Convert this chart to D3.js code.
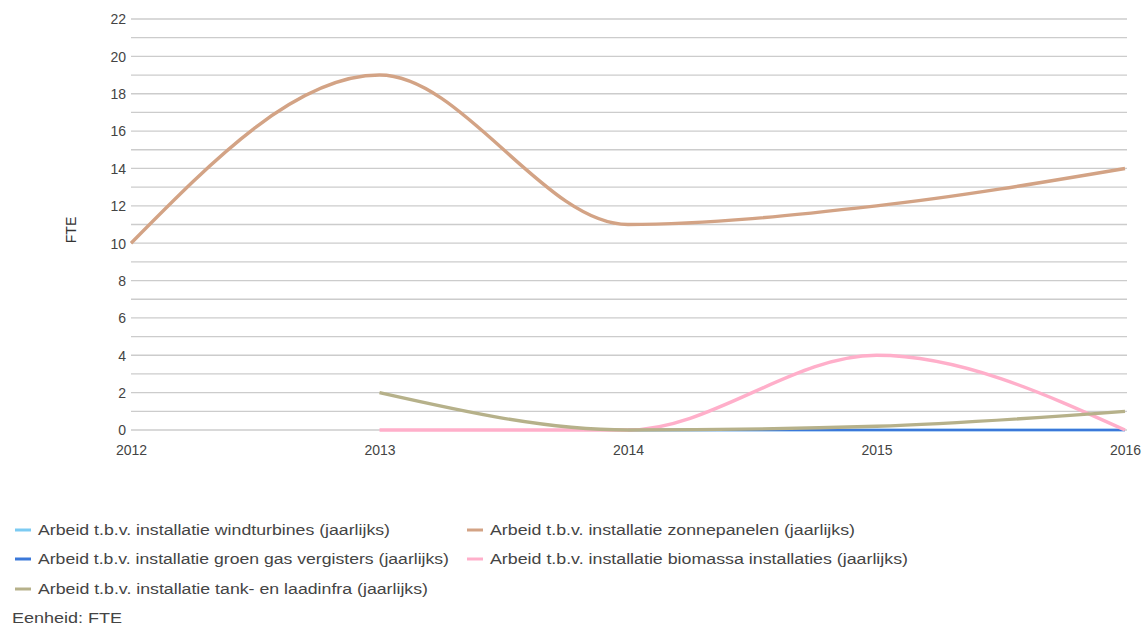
<!DOCTYPE html>
<html><head><meta charset="utf-8">
<script src="https://cdn.jsdelivr.net/npm/d3@7"></script>
<style>body{margin:0;background:#fff;} svg{display:block;font-family:"Liberation Sans",Arial,sans-serif;}</style>
</head><body>
<svg id="c" width="1147" height="625"></svg>
<script>
const years = [2012, 2013, 2014, 2015, 2016];
const yTicks = [0,2,4,6,8,10,12,14,16,18,20,22];
const seriesNames = [
  "Arbeid t.b.v. installatie windturbines (jaarlijks)",
  "Arbeid t.b.v. installatie zonnepanelen (jaarlijks)",
  "Arbeid t.b.v. installatie groen gas vergisters (jaarlijks)",
  "Arbeid t.b.v. installatie biomassa installaties (jaarlijks)",
  "Arbeid t.b.v. installatie tank- en laadinfra (jaarlijks)"
];
const seriesColors = ["#7ccbf2", "#d3a385", "#3b78d9", "#ffafca", "#b6b18a"];
const windturbines = [null, null, 0, 0, 0];
const zonnepanelen = [10, 19, 11, 12, 14];
const groenGas = [null, null, 0, 0, 0];
const biomassa = [null, 0, 0, 4, 0];
const tankLaad = [null, 2, 0, 0.2, 1];
const seriesValues = [windturbines, zonnepanelen, groenGas, biomassa, tankLaad];
const unitLabel = "Eenheid: FTE";
const yTitle = "FTE";

const svg = d3.select("#c");
const x = d3.scaleLinear().domain([2012, 2016]).range([131, 1125]);
const y = d3.scaleLinear().domain([0, 22]).range([430, 19]);

// gridlines every 1
const g = svg.append("g");
g.selectAll("line.grid").data(d3.range(0, 23, 1)).enter().append("line")
  .attr("x1", 131).attr("x2", 1127)
  .attr("y1", d => y(d)).attr("y2", d => y(d))
  .attr("stroke", "#cccccc").attr("stroke-width", 1.3);

// y axis labels
const yAxis = d3.axisLeft(y).tickValues(yTicks).tickSize(0).tickPadding(5);
const ya = svg.append("g").attr("transform", "translate(131,0)").call(yAxis);
ya.select(".domain").remove();
ya.selectAll("text").attr("font-size", 14).attr("fill", "#444").attr("font-family", "Liberation Sans, Arial, sans-serif").attr("dy", "0.35em");

// x axis labels
const xAxis = d3.axisBottom(x).tickValues(years).tickFormat(d3.format("d")).tickSize(0).tickPadding(15);
const xa = svg.append("g").attr("transform", "translate(0,430)").call(xAxis);
xa.select(".domain").remove();
xa.selectAll("text").attr("font-size", 14).attr("fill", "#444").attr("font-family", "Liberation Sans, Arial, sans-serif");

// y title
svg.append("text").attr("transform", "translate(76,230) rotate(-90)")
  .attr("text-anchor", "middle").attr("font-size", 14).attr("fill", "#333").text(yTitle);

// lines
const line = d3.line()
  .defined(d => d.v !== null)
  .x(d => x(d.year)).y(d => y(d.v))
  .curve(d3.curveMonotoneX);
seriesValues.forEach((vals, i) => {
  const data = years.map((yr, j) => ({year: yr, v: vals[j]}));
  svg.append("path").datum(data)
    .attr("d", line).attr("fill", "none")
    .attr("stroke", seriesColors[i]).attr("stroke-width", i === 2 || i === 0 ? 2.6 : 3.4)
    .attr("stroke-linecap", "butt");
});

// legend
const legendPos = [
  {x: 15, y: 530, w: 352},
  {x: 467, y: 530, w: 365},
  {x: 15, y: 559, w: 411},
  {x: 467, y: 559, w: 418},
  {x: 15, y: 589, w: 390}
];
seriesNames.forEach((name, i) => {
  const p = legendPos[i];
  svg.append("line").attr("x1", p.x).attr("x2", p.x + 16)
    .attr("y1", p.y).attr("y2", p.y)
    .attr("stroke", seriesColors[i]).attr("stroke-width", 3);
  svg.append("text").attr("x", p.x + 23).attr("y", p.y + 5)
    .attr("font-size", 14).attr("fill", "#444")
    .attr("textLength", p.w).attr("lengthAdjust", "spacingAndGlyphs")
    .text(name);
});
svg.append("text").attr("x", 12).attr("y", 623).attr("font-size", 14)
  .attr("fill", "#444").attr("textLength", 110).attr("lengthAdjust", "spacingAndGlyphs").text(unitLabel);
</script>
</body></html>
